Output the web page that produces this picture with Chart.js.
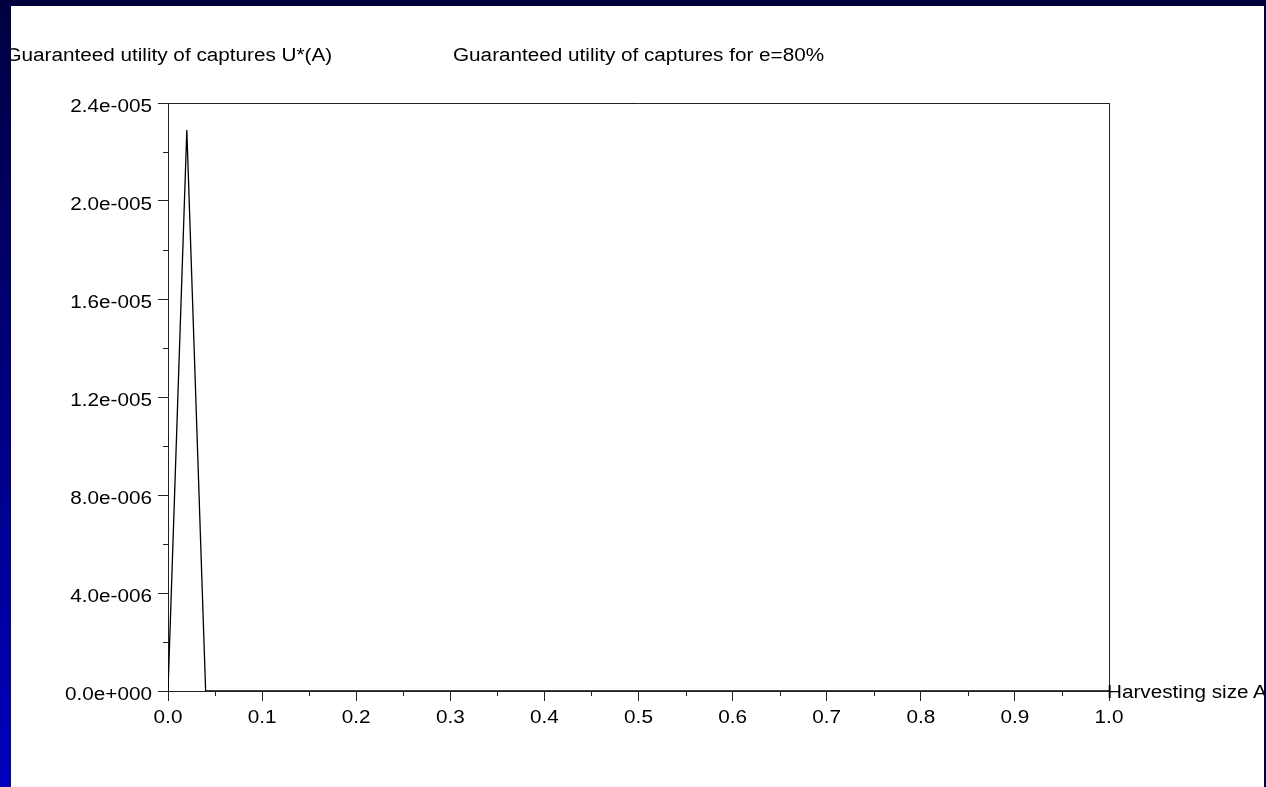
<!DOCTYPE html>
<html>
<head>
<meta charset="utf-8">
<script src="https://cdn.jsdelivr.net/npm/chart.js@4"></script>
<style>
  html, body { margin: 0; padding: 0; width: 1266px; height: 787px; overflow: hidden; background: #00003f; }
  #panel { position: absolute; left: 0; top: 6px; width: 1264px; height: 781px; background: #fff; }
  #strip { position: absolute; left: 0; top: 0; width: 11px; height: 787px; background: linear-gradient(#000040, #0000bd); z-index: 5; }
  #cv { position: absolute; left: 11px; top: 6px; }
  .lbl { position: absolute; font-family: "Liberation Sans", Arial, sans-serif; font-size: 18px; line-height: 18px; color: #000; white-space: nowrap; }
  #rightedge { position: absolute; left: 1264px; top: 0; width: 2px; height: 787px; background: #00003f; z-index: 5; }
</style>
</head>
<body>
<div id="panel"></div>
<canvas id="cv" width="1253" height="781"></canvas>
<div class="lbl" id="ylab" style="right:934px; top:46px; transform:scaleX(1.15); transform-origin:right center;">Guaranteed utility of captures U*(A)</div>
<div class="lbl" id="ttl" style="left:453px; top:46px; transform:scaleX(1.15); transform-origin:left center;">Guaranteed utility of captures for e=80%</div>
<div class="lbl" id="xlab" style="left:1107px; top:683px; transform:scaleX(1.15); transform-origin:left center;">Harvesting size A</div>
<div id="strip"></div>
<div id="rightedge"></div>
<script>
// ---- data ----
const harvestSize = [0.0, 0.02, 0.04, 1.0];
const utility = [0.0, 2.29e-5, 0.0, 0.0];
const xMajorTicks = [0.0, 0.1, 0.2, 0.3, 0.4, 0.5, 0.6, 0.7, 0.8, 0.9, 1.0];
const xMinorTicks = [0.05, 0.15, 0.25, 0.35, 0.45, 0.55, 0.65, 0.75, 0.85, 0.95];
const yMajorTicks = [0, 4e-6, 8e-6, 1.2e-5, 1.6e-5, 2.0e-5, 2.4e-5];
const yMinorTicks = [2e-6, 6e-6, 1.0e-5, 1.4e-5, 1.8e-5, 2.2e-5];

function sciLabel(v) {
  if (Math.abs(v) < 1e-12) return '0.0e+000';
  let e = Math.floor(Math.log10(Math.abs(v)) + 1e-9);
  let m = v / Math.pow(10, e);
  if (Math.abs(m) >= 9.95) { m /= 10; e += 1; }
  const sign = e < 0 ? '-' : '+';
  return m.toFixed(1) + 'e' + sign + String(Math.abs(e)).padStart(3, '0');
}

const FONT_CSS = '18px "Liberation Sans", Arial, sans-serif';
const STRETCH = 1.15;
const AX = '#222';

const extras = {
  id: 'extras',
  afterDraw(chart) {
    const ctx = chart.ctx;
    const a = chart.chartArea;
    const xs = chart.scales.x, ys = chart.scales.y;
    ctx.save();
    ctx.strokeStyle = AX;
    ctx.lineWidth = 1;
    ctx.beginPath();
    // top and right frame
    ctx.moveTo(a.left, a.top + 0.5); ctx.lineTo(a.right + 0.5, a.top + 0.5);
    ctx.moveTo(a.right + 0.5, a.top); ctx.lineTo(a.right + 0.5, a.bottom);
    // minor ticks
    xMinorTicks.forEach(v => {
      const px = Math.round(xs.getPixelForValue(v)) + 0.5;
      ctx.moveTo(px, a.bottom); ctx.lineTo(px, a.bottom + 5);
    });
    yMinorTicks.forEach(v => {
      const py = Math.round(ys.getPixelForValue(v)) + 0.5;
      ctx.moveTo(a.left - 5, py); ctx.lineTo(a.left, py);
    });
    ctx.stroke();

    // tick labels from the scales' ticks (stretched like the original)
    ctx.fillStyle = '#000';
    ctx.font = FONT_CSS;
    ctx.textBaseline = 'alphabetic';
    xs.ticks.forEach(t => {
      const px = xs.getPixelForValue(t.value);
      ctx.save();
      ctx.translate(px, a.bottom + 32);
      ctx.scale(STRETCH, 1);
      ctx.textAlign = 'center';
      ctx.fillText(Number(t.value).toFixed(1), 0, 0);
      ctx.restore();
    });
    ys.ticks.forEach(t => {
      const py = ys.getPixelForValue(t.value);
      ctx.save();
      ctx.translate(a.left - 16, py + 9);
      ctx.scale(STRETCH, 1);
      ctx.textAlign = 'right';
      ctx.fillText(sciLabel(t.value), 0, 0);
      ctx.restore();
    });
    ctx.restore();
  }
};

new Chart(document.getElementById('cv'), {
  type: 'line',
  data: {
    datasets: [{
      data: harvestSize.map((x, i) => ({ x: x, y: utility[i] })),
      borderColor: '#000',
      borderWidth: 1.3,
      pointRadius: 0,
      tension: 0,
      fill: false
    }]
  },
  options: {
    responsive: false,
    animation: false,
    devicePixelRatio: 1,
    layout: { padding: { top: 97, right: 155, left: 0, bottom: 0 } },
    plugins: { legend: { display: false }, tooltip: { enabled: false }, title: { display: false } },
    scales: {
      x: {
        type: 'linear', min: 0, max: 1,
        afterBuildTicks: s => { s.ticks = xMajorTicks.map(v => ({ value: v })); },
        afterFit: s => { s.height = 96; },
        ticks: { display: false, autoSkip: false },
        grid: { drawOnChartArea: false, drawTicks: true, tickLength: 10, color: AX, lineWidth: 1 },
        border: { color: AX, width: 1 }
      },
      y: {
        type: 'linear', min: 0, max: 2.4e-5,
        afterBuildTicks: s => { s.ticks = yMajorTicks.map(v => ({ value: v })); },
        afterFit: s => { s.width = 157; },
        ticks: { display: false, autoSkip: false },
        grid: { drawOnChartArea: false, drawTicks: true, tickLength: 10, color: AX, lineWidth: 1 },
        border: { color: AX, width: 1 }
      }
    }
  },
  plugins: [extras]
});
</script>
</body>
</html>
